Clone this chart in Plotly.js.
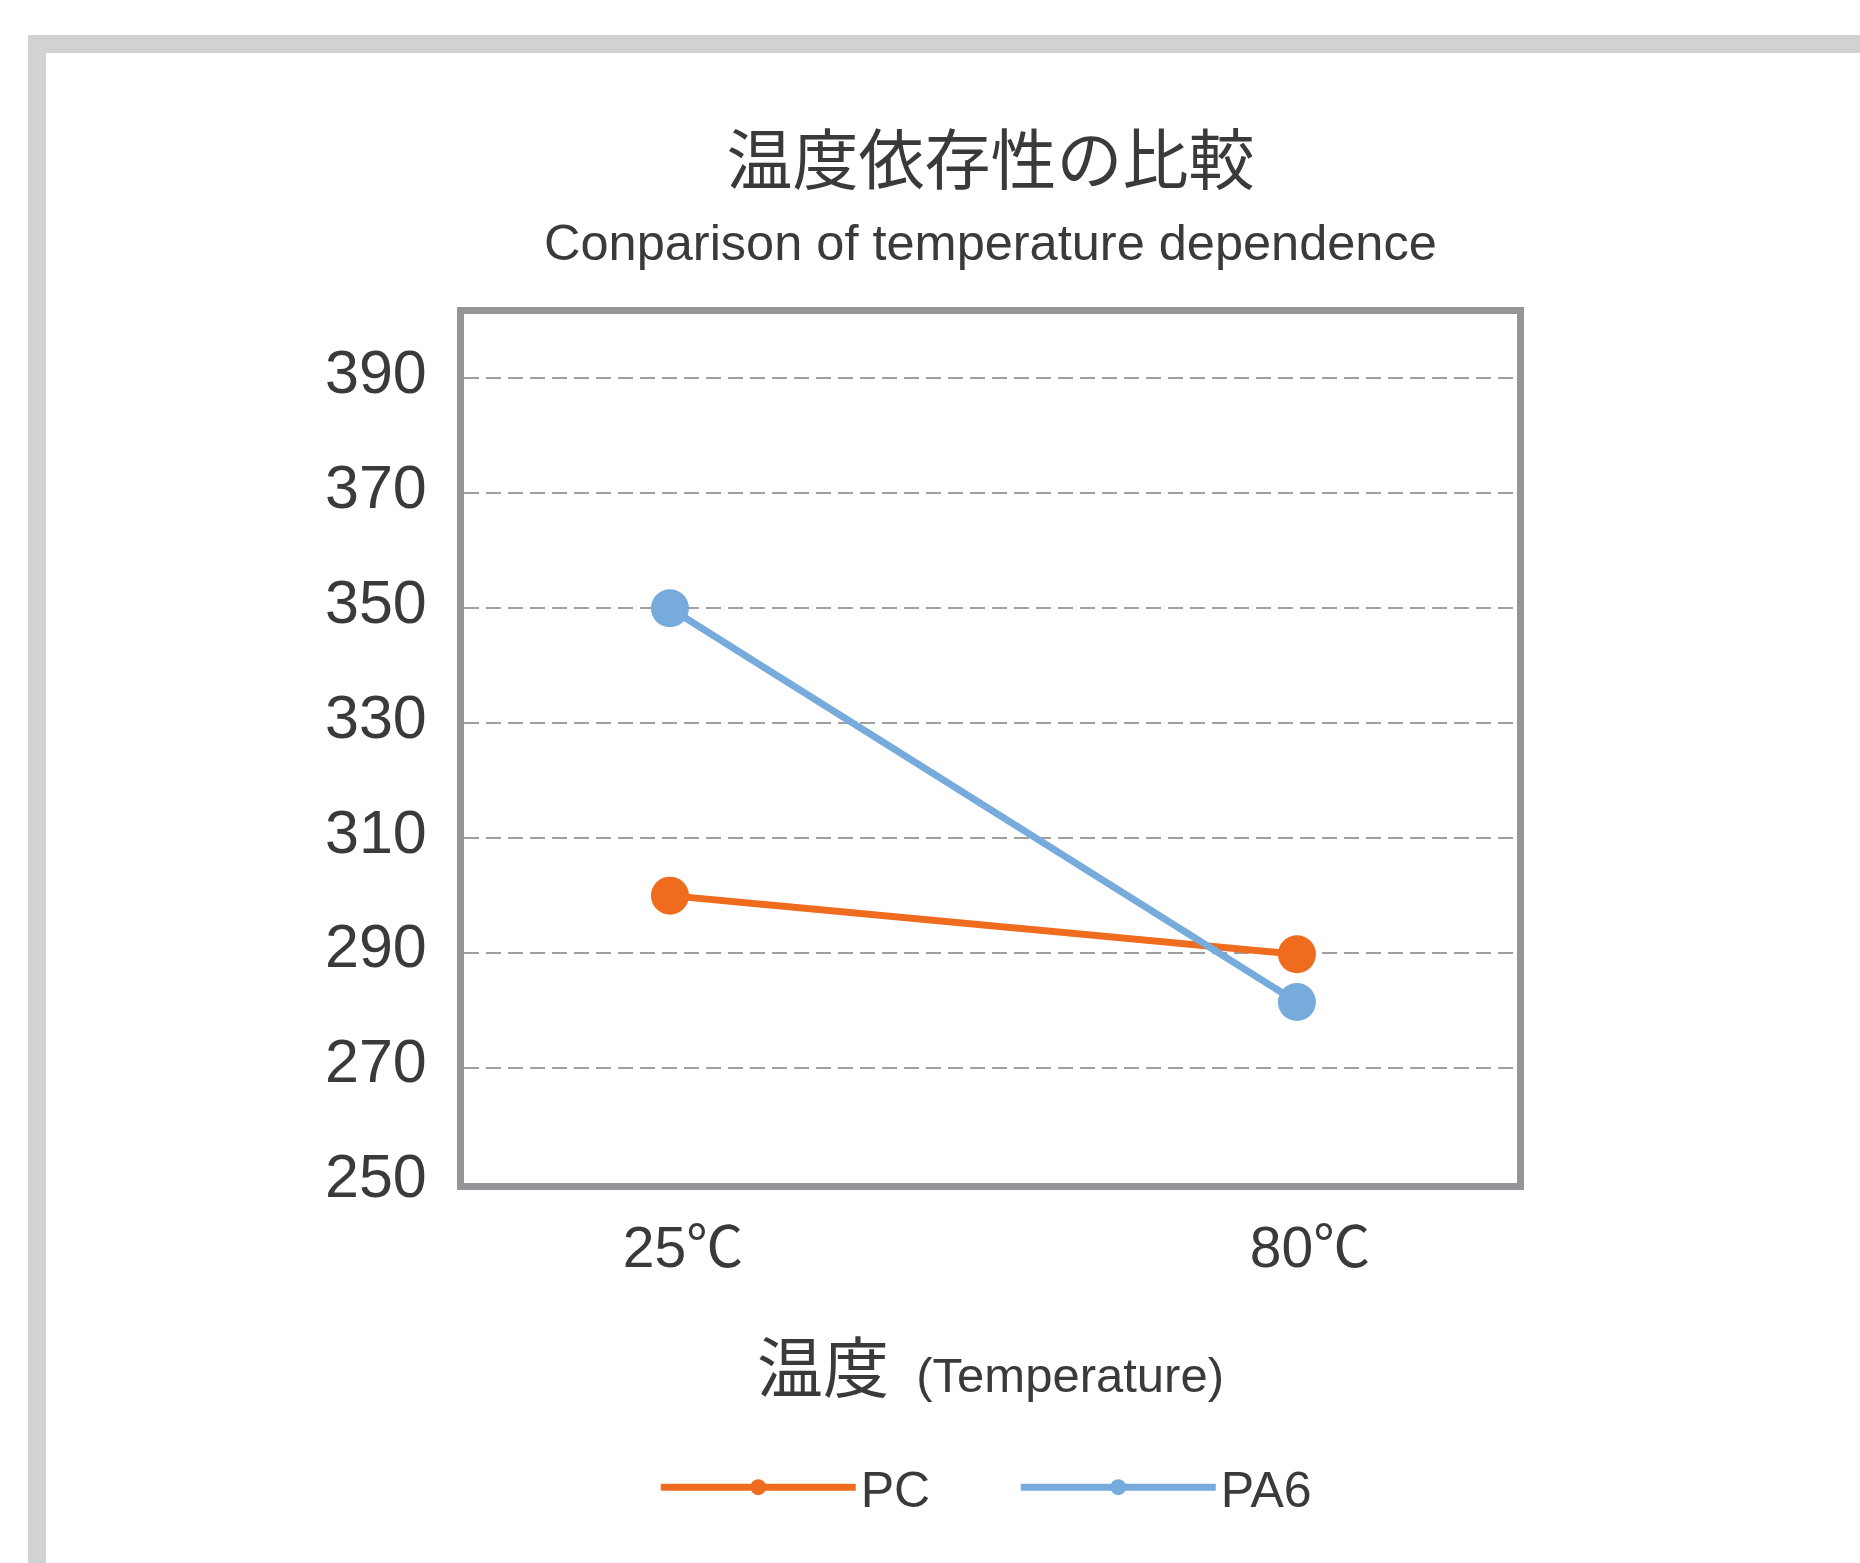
<!DOCTYPE html>
<html>
<head>
<meta charset="utf-8">
<script src="https://cdn.plot.ly/plotly-3.0.1.min.js"></script>
<style>
  html, body { margin: 0; padding: 0; background: #ffffff; }
  #frame { position: absolute; left: 28px; top: 35px; width: 1900px; height: 1600px;
           border-left: 18px solid #d1d2d4; border-top: 18px solid #d1d2d4; box-sizing: border-box; }
  #chart { position: absolute; left: 0; top: 0; width: 1860px; height: 1563px; }
</style>
</head>
<body>
<div id="frame"></div>
<div id="chart"></div>
<script>
// ---- data ----
const categories = ['25℃', '80℃'];
const seriesNames = ['PC', 'PA6'];
const pcValues = [300, 289.8];
const pa6Values = [350, 281.5];
const yTickValues = [250, 270, 290, 310, 330, 350, 370, 390];
const yTickLabels = ['250', '270', '290', '310', '330', '350', '370', '390'];

const chartTitle = '温度依存性の比較';
const chartSubtitle = 'Conparison of temperature dependence';
const xTitleMain = '温度';
const xTitleSub = '(Temperature)';

const FONT = '"Liberation Sans", Arial, "Noto Sans CJK JP", sans-serif';
const CJK = '"Noto Sans CJK JP", "Liberation Sans", sans-serif';
const TXT = '#3a3a3a';

const orange = '#ef6c1f';
const blue = '#77abdc';

const traces = [
  {
    x: categories, y: pcValues, name: seriesNames[0], type: 'scatter', mode: 'lines+markers',
    line: { color: orange, width: 7 }, marker: { color: orange, size: 38 }
  },
  {
    x: categories, y: pa6Values, name: seriesNames[1], type: 'scatter', mode: 'lines+markers',
    line: { color: blue, width: 7 }, marker: { color: blue, size: 38 }
  }
];

const layout = {
  width: 1860, height: 1563,
  paper_bgcolor: 'rgba(0,0,0,0)', plot_bgcolor: '#ffffff',
  margin: { l: 464, r: 343, t: 314, b: 380 },
  font: { family: FONT, color: TXT },
  showlegend: true,
  title: {
    text: chartTitle,
    font: { family: CJK, size: 66, color: TXT },
    xref: 'paper', x: 0.5, xanchor: 'center',
    yref: 'container', y: 1 - 161 / 1563, yanchor: 'middle'
  },
  annotations: [
    {
      text: chartSubtitle, xref: 'paper', yref: 'paper', x: 0.5, y: 1.082,
      xanchor: 'center', yanchor: 'middle', showarrow: false,
      font: { family: FONT, size: 50.5, color: TXT }
    }
  ],
  xaxis: {
    type: 'category',
    range: [-0.3285, 1.351],
    showgrid: false, zeroline: false,
    showline: true, mirror: true, linecolor: '#939598', linewidth: 7,
    ticks: '', tickfont: { family: FONT, size: 57, color: TXT },
    ticklabelshift: 13, ticklabelstandoff: 9,
    title: {
      text: '<span style="font-family:' + CJK.replace(/"/g, "'") + ';font-size:66px">' + xTitleMain + '</span>  <span style="font-size:49px">' + xTitleSub + '</span>',
      font: { family: FONT, size: 49, color: TXT },
      standoff: 82
    },
    fixedrange: true
  },
  yaxis: {
    range: [250, 401.2],
    tickvals: yTickValues, ticktext: yTickLabels,
    showgrid: true, gridcolor: '#a0a0a0', gridwidth: 2, griddash: '15px,7px',
    zeroline: false,
    showline: true, mirror: true, linecolor: '#939598', linewidth: 7,
    ticks: '', tickfont: { family: FONT, size: 61, color: TXT },
    ticklabelstandoff: 18, ticklabelshift: -7,
    fixedrange: true
  },
  legend: {
    orientation: 'h', x: 0.524, xanchor: 'center', y: -0.35, yanchor: 'middle',
    font: { family: FONT, size: 50, color: TXT },
    itemwidth: 195, entrywidth: 150, entrywidthmode: 'pixels',
    bgcolor: 'rgba(0,0,0,0)', itemsizing: 'trace'
  }
};

Plotly.newPlot('chart', traces, layout, { displayModeBar: false, staticPlot: true });
</script>
</body>
</html>
